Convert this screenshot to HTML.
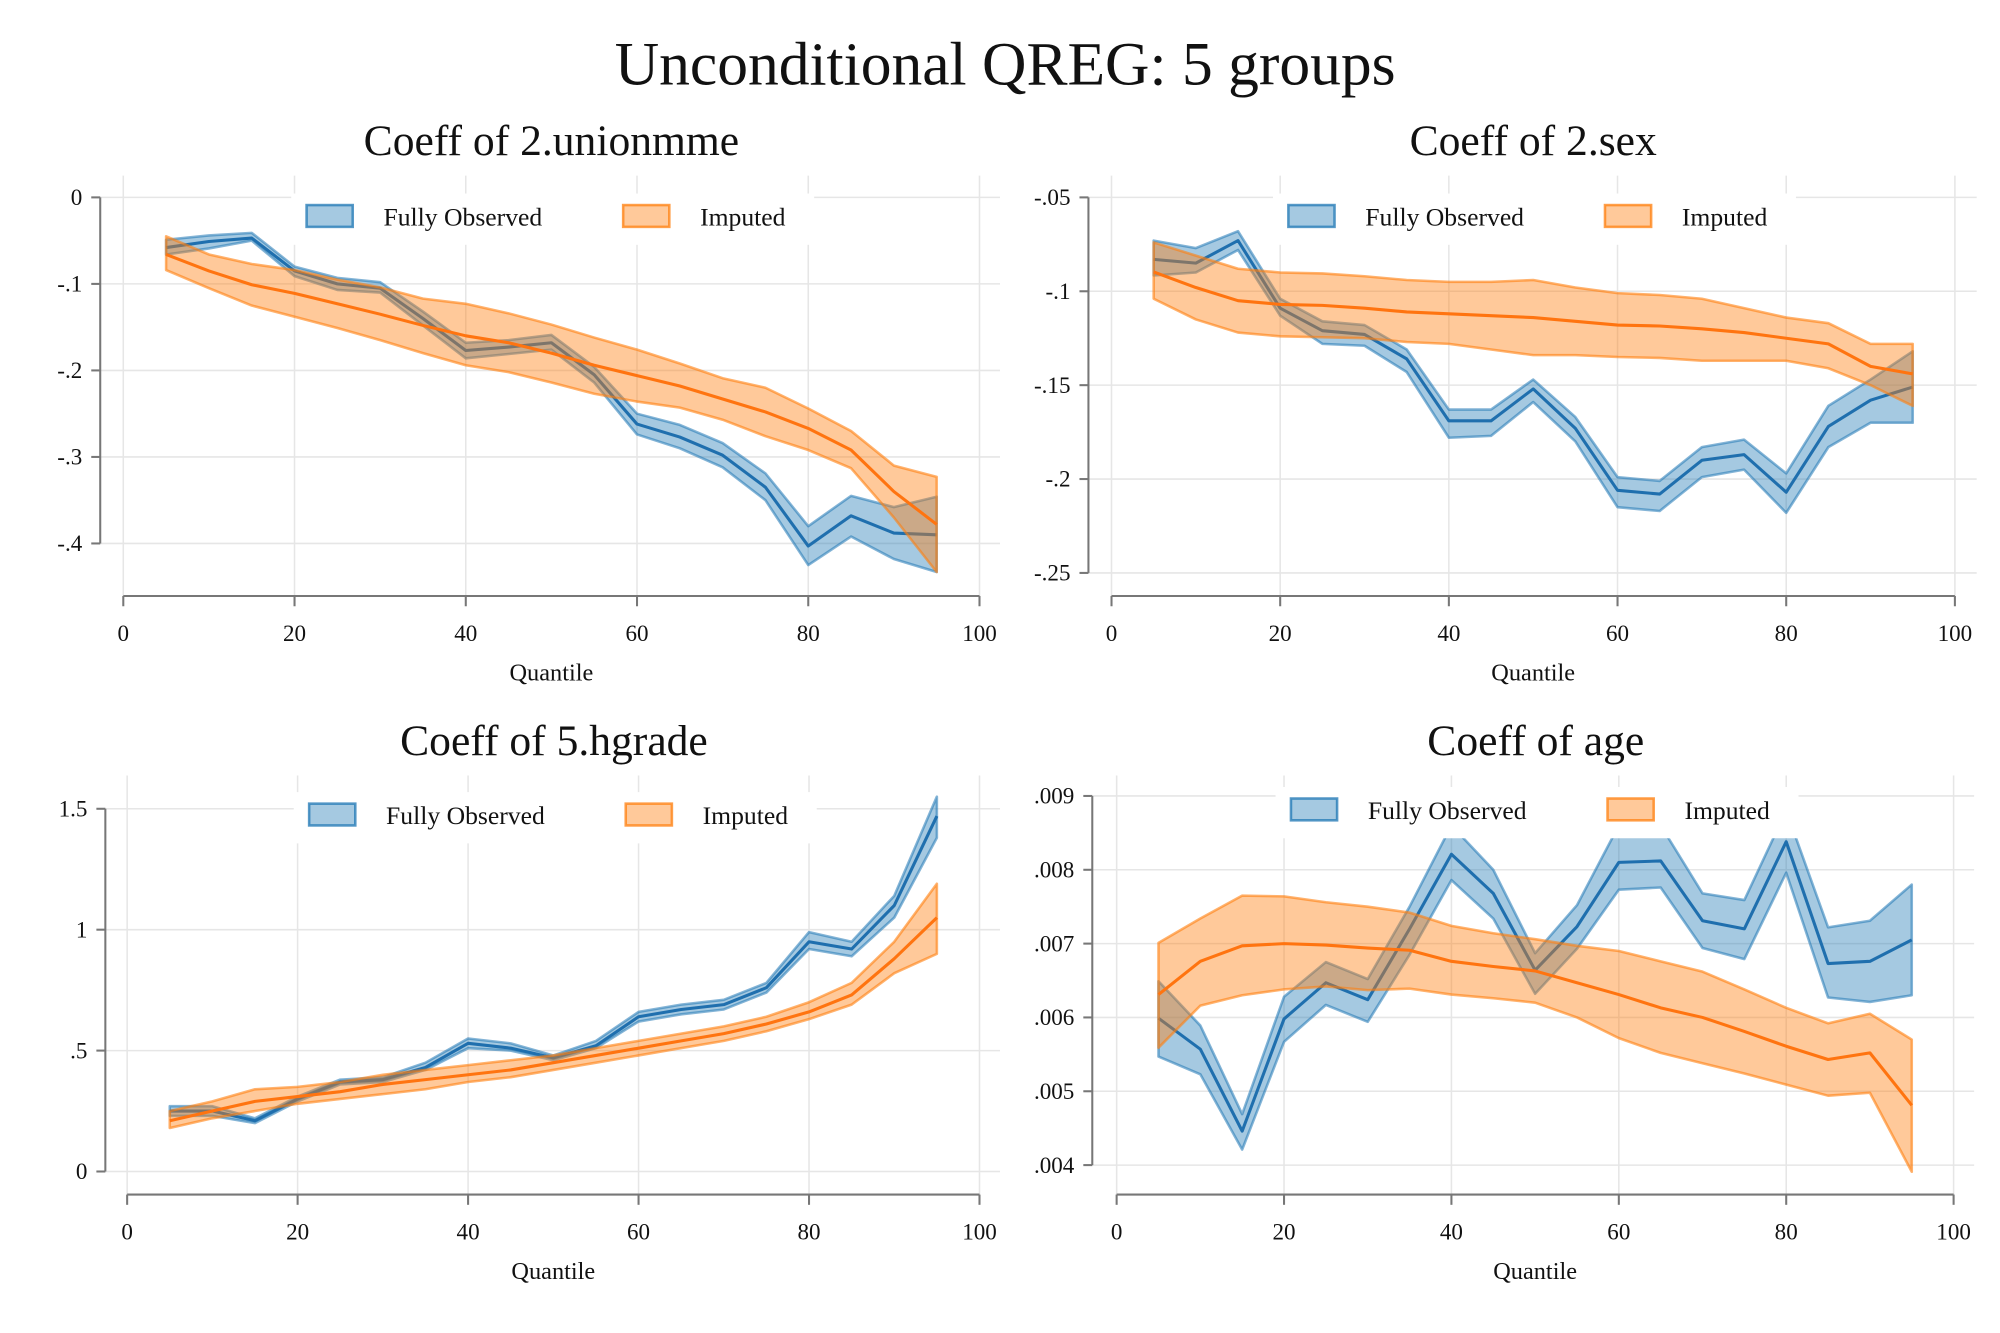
<!DOCTYPE html>
<html><head><meta charset="utf-8"><style>
html,body{margin:0;padding:0;background:#fff}
svg{display:block}
text{font-family:"Liberation Serif",serif;fill:#111}
</style></head><body>
<svg id="chart" width="2000" height="1333" viewBox="0 0 1560 1040" xmlns="http://www.w3.org/2000/svg">
<rect width="1560" height="1040" fill="#fff"/>
<text x="784" y="66" font-size="48" text-anchor="middle">Unconditional QREG: 5 groups</text>
</svg>
<script>
const quantiles=[5,10,15,20,25,30,35,40,45,50,55,60,65,70,75,80,85,90,95];
const xTicks=[0,20,40,60,80,100];
// Panel 1: 2.unionmme
const p1BlueEst=[-.058,-.051,-.047,-.085,-.1,-.105,-.14,-.177,-.173,-.168,-.205,-.262,-.277,-.298,-.335,-.403,-.368,-.388,-.39];
const p1BlueLo=[-.066,-.059,-.05,-.091,-.107,-.11,-.148,-.186,-.181,-.176,-.214,-.274,-.29,-.312,-.35,-.425,-.392,-.418,-.433];
const p1BlueHi=[-.049,-.044,-.041,-.08,-.093,-.098,-.132,-.168,-.165,-.159,-.196,-.25,-.263,-.284,-.319,-.38,-.345,-.358,-.346];
const p1OrEst=[-.066,-.085,-.101,-.111,-.123,-.135,-.148,-.16,-.168,-.18,-.194,-.206,-.218,-.233,-.248,-.267,-.292,-.34,-.378];
const p1OrHi=[-.045,-.066,-.077,-.084,-.095,-.104,-.117,-.123,-.134,-.147,-.162,-.176,-.192,-.209,-.22,-.244,-.27,-.31,-.323];
const p1OrLo=[-.084,-.105,-.125,-.138,-.151,-.165,-.18,-.194,-.202,-.214,-.227,-.236,-.243,-.257,-.276,-.292,-.313,-.37,-.433];
const p1YTicks=[0,-.1,-.2,-.3,-.4];
const p1YLabels=["0","-.1","-.2","-.3","-.4"];
// Panel 2: 2.sex
const p2BlueEst=[-.083,-.085,-.073,-.109,-.121,-.123,-.136,-.169,-.169,-.152,-.173,-.206,-.208,-.19,-.187,-.207,-.172,-.158,-.151];
const p2BlueLo=[-.0916,-.09,-.078,-.113,-.128,-.129,-.143,-.178,-.177,-.159,-.18,-.215,-.217,-.199,-.195,-.218,-.183,-.17,-.17];
const p2BlueHi=[-.073,-.077,-.068,-.104,-.116,-.118,-.131,-.163,-.163,-.147,-.167,-.199,-.201,-.183,-.179,-.197,-.161,-.147,-.132];
const p2OrEst=[-.0897,-.098,-.105,-.107,-.1075,-.109,-.111,-.112,-.113,-.114,-.116,-.118,-.1185,-.12,-.122,-.125,-.128,-.14,-.144];
const p2OrHi=[-.074,-.081,-.088,-.09,-.0905,-.092,-.094,-.095,-.095,-.094,-.098,-.101,-.102,-.104,-.109,-.114,-.117,-.128,-.128];
const p2OrLo=[-.104,-.115,-.122,-.124,-.1245,-.125,-.127,-.128,-.131,-.134,-.134,-.135,-.1355,-.137,-.137,-.137,-.141,-.15,-.161];
const p2YTicks=[-.05,-.1,-.15,-.2,-.25];
const p2YLabels=["-.05","-.1","-.15","-.2","-.25"];
// Panel 3: 5.hgrade
const p3BlueEst=[.25,.25,.21,.3,.37,.38,.43,.53,.51,.47,.52,.64,.67,.69,.76,.95,.92,1.1,1.47];
const p3BlueLo=[.23,.23,.2,.29,.36,.37,.42,.51,.5,.46,.51,.62,.65,.67,.74,.92,.89,1.05,1.38];
const p3BlueHi=[.27,.27,.22,.31,.38,.39,.45,.55,.53,.48,.54,.66,.69,.71,.78,.99,.95,1.14,1.55];
const p3OrEst=[.21,.25,.29,.31,.33,.36,.38,.4,.42,.45,.48,.51,.54,.57,.61,.66,.73,.88,1.05];
const p3OrHi=[.25,.29,.34,.35,.37,.4,.42,.44,.46,.48,.51,.54,.57,.6,.64,.7,.78,.95,1.19];
const p3OrLo=[.18,.22,.25,.28,.3,.32,.34,.37,.39,.42,.45,.48,.51,.54,.58,.63,.69,.82,.9];
const p3YTicks=[0,.5,1,1.5];
const p3YLabels=["0",".5","1","1.5"];
// Panel 4: age
const p4BlueEst=[.00599,.00557,.00446,.00598,.00647,.00624,.0072,.00821,.00768,.00664,.00723,.0081,.00812,.00731,.0072,.00838,.00673,.00676,.00705];
const p4BlueLo=[.00547,.00523,.00421,.00567,.00617,.00594,.00685,.00786,.00734,.00632,.00693,.00773,.00776,.00694,.00679,.00796,.00627,.00621,.0063];
const p4BlueHi=[.00649,.00589,.00469,.00628,.00675,.00652,.0075,.0086,.008,.00687,.00752,.0086,.0086,.00768,.00759,.0088,.00722,.00731,.0078];
const p4OrEst=[.00631,.00676,.00697,.007,.00698,.00694,.00691,.00676,.00669,.00663,.00647,.00631,.00613,.006,.00581,.00561,.00543,.00552,.00481];
const p4OrHi=[.00701,.00734,.00765,.00764,.00756,.0075,.00742,.00724,.00714,.00706,.00697,.0069,.00676,.00662,.00638,.00613,.00592,.00605,.0057];
const p4OrLo=[.00559,.00616,.0063,.00638,.00642,.00637,.00639,.00631,.00626,.0062,.006,.00572,.00552,.00538,.00524,.00509,.00494,.00498,.00391];
const p4YTicks=[.004,.005,.006,.007,.008,.009];
const p4YLabels=[".004",".005",".006",".007",".008",".009"];

const NS="http://www.w3.org/2000/svg";
const svg=document.getElementById('chart');
function mk(tag,attrs,parent){const e=document.createElementNS(NS,tag);for(const k in attrs)e.setAttribute(k,attrs[k]);(parent||svg).appendChild(e);return e;}

const panels=[
 {id:'unionmme',title:'Coeff of 2.unionmme',tx:430,ty:121,x0:96,x1:764,v0:0,py0:154,v1:-.4,py1:424,axisY:465,yAxisX:78,gTop:137,gRight:780,legY:151,legX:227,
  yt:p1YTicks,yl:p1YLabels,be:p1BlueEst,bl:p1BlueLo,bh:p1BlueHi,oe:p1OrEst,ol:p1OrLo,oh:p1OrHi},
 {id:'sex',title:'Coeff of 2.sex',tx:1196,ty:121,x0:867,x1:1525,v0:-.05,py0:154,v1:-.25,py1:447,axisY:465,yAxisX:849,gTop:137,gRight:1542,legY:151,legX:993,
  yt:p2YTicks,yl:p2YLabels,be:p2BlueEst,bl:p2BlueLo,bh:p2BlueHi,oe:p2OrEst,ol:p2OrLo,oh:p2OrHi},
 {id:'hgrade',title:'Coeff of 5.hgrade',tx:432,ty:589,x0:99,x1:764,v0:0,py0:914,v1:1.5,py1:631,axisY:932,yAxisX:82,gTop:605,gRight:780,legY:618,legX:229,
  yt:p3YTicks,yl:p3YLabels,be:p3BlueEst,bl:p3BlueLo,bh:p3BlueHi,oe:p3OrEst,ol:p3OrLo,oh:p3OrHi},
 {id:'age',title:'Coeff of age',tx:1198,ty:589,x0:871,x1:1524,v0:.004,py0:909,v1:.009,py1:621,axisY:932,yAxisX:852,gTop:605,gRight:1540,legY:614,legX:995,
  yt:p4YTicks,yl:p4YLabels,be:p4BlueEst,bl:p4BlueLo,bh:p4BlueHi,oe:p4OrEst,ol:p4OrLo,oh:p4OrHi}
];

panels.forEach(p=>{
 const g=mk('g',{});
 
 
 const xs=v=>p.x0+(v/100)*(p.x1-p.x0);
 const ys=v=>p.py0+(v-p.v0)/(p.v1-p.v0)*(p.py1-p.py0);
 const t=mk('text',{x:p.tx,y:p.ty,'font-size':34,'text-anchor':'middle'},g);t.textContent=p.title;
 
 
 // gridlines
 p.yt.forEach((v,i)=>{
  const y=ys(v);
  const gl=mk('line',{x1:p.yAxisX,x2:p.gRight,y1:y,y2:y,stroke:'#e6e6e6','stroke-width':1.2},g);
  
  
 });
 xTicks.forEach(v=>{
  const x=xs(v);
  const gl=mk('line',{x1:x,x2:x,y1:p.gTop,y2:p.axisY,stroke:'#e6e6e6','stroke-width':1.2},g);
  
  
 });
 // bands
 const band=(lo,hi,fill,stroke,name)=>{
  let d='M'+quantiles.map((q,i)=>xs(q)+','+ys(hi[i])).join('L');
  d+='L'+quantiles.map((q,i)=>xs(q)+','+ys(lo[i])).reverse().join('L')+'Z';
  const pa=mk('path',{d:d,fill:fill,stroke:stroke,'stroke-width':2,'stroke-linejoin':'round'},g);
  
  
 };
 const line=(est,color,name)=>{
  const d='M'+quantiles.map((q,i)=>xs(q)+','+ys(est[i])).join('L');
  const pa=mk('path',{d:d,fill:'none',stroke:color,'stroke-width':2.4,'stroke-linejoin':'round'},g);
  
  
 };
 band(p.bl,p.bh,'rgba(31,119,180,0.4)','rgba(31,119,180,0.55)','fully-observed-ci-band');
 line(p.be,'#1f6fae','fully-observed-line');
 band(p.ol,p.oh,'rgba(255,127,14,0.42)','rgba(255,127,14,0.6)','imputed-ci-band');
 line(p.oe,'#ff7410','imputed-line');
 // legend
 const lg=mk('g',{},g);
 
 
 mk('rect',{x:p.legX,y:p.legY,width:408,height:40,fill:'#fff'},lg);
 const sw1=mk('rect',{x:p.legX+12,y:p.legY+9,width:36,height:17,fill:'rgba(31,119,180,0.4)',stroke:'rgba(31,119,180,0.75)','stroke-width':2},lg);
 
 
 const l1=mk('text',{x:p.legX+72,y:p.legY+25,'font-size':20},lg);l1.textContent='Fully Observed';
 
 
 const sw2=mk('rect',{x:p.legX+259,y:p.legY+9,width:36,height:17,fill:'rgba(255,127,14,0.42)',stroke:'rgba(255,127,14,0.75)','stroke-width':2},lg);
 
 
 const l2=mk('text',{x:p.legX+319,y:p.legY+25,'font-size':20},lg);l2.textContent='Imputed';
 
 
 // axes
 const ya=mk('line',{x1:p.yAxisX,x2:p.yAxisX,y1:ys(p.yt[0]),y2:ys(p.yt[p.yt.length-1]),stroke:'#777','stroke-width':1.6},g);
 
 
 p.yt.forEach((v,i)=>{
  const y=ys(v);
  mk('line',{x1:p.yAxisX-7,x2:p.yAxisX,y1:y,y2:y,stroke:'#777','stroke-width':1.6},g);
  const tl=mk('text',{x:p.yAxisX-14,y:y+6,'font-size':18,'text-anchor':'end'},g);tl.textContent=p.yl[i];
  
  
 });
 const xa=mk('line',{x1:xs(0),x2:xs(100),y1:p.axisY,y2:p.axisY,stroke:'#777','stroke-width':1.6},g);
 
 
 xTicks.forEach(v=>{
  const x=xs(v);
  mk('line',{x1:x,x2:x,y1:p.axisY,y2:p.axisY+8,stroke:'#777','stroke-width':1.6},g);
  const tl=mk('text',{x:x,y:p.axisY+35,'font-size':18,'text-anchor':'middle'},g);tl.textContent=v;
  
  
 });
 const xt=mk('text',{x:(xs(0)+xs(100))/2,y:p.axisY+66,'font-size':19,'text-anchor':'middle'},g);xt.textContent='Quantile';
 
 
});
</script>
</body></html>
